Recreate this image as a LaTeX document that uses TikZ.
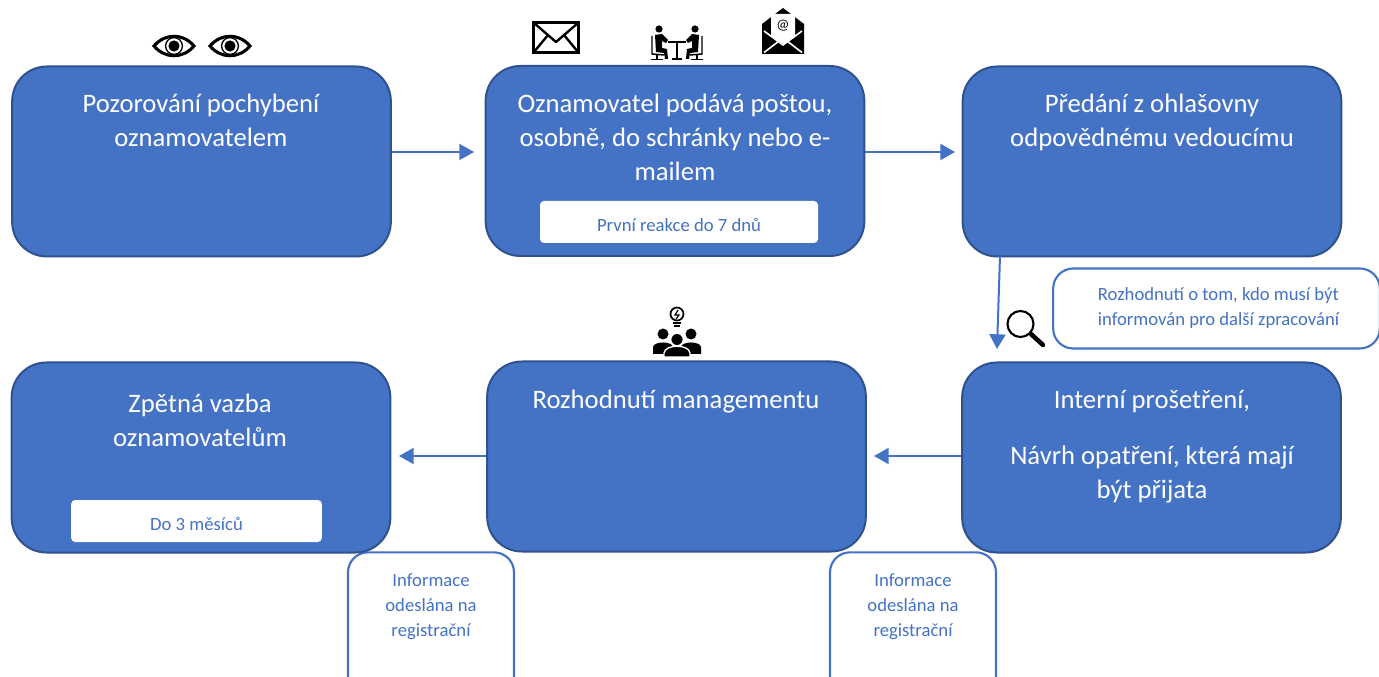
\documentclass[tikz,border=0pt]{standalone}
\usepackage{fontspec}
\setmainfont{Carlito}
\usetikzlibrary{arrows.meta}
\definecolor{boxblue}{HTML}{4472C4}
\definecolor{boxedge}{HTML}{2F528F}
\tikzset{
	stepbox/.style={rectangle,draw=boxedge,fill=boxblue,line width=1.5pt,rounded corners=26pt,minimum width=284pt,minimum height=142.5pt},
	steptext/.style={anchor=north,align=center,text=white,font=\fontsize{20}{25.5}\selectfont},
	deadline/.style={rectangle,fill=white,rounded corners=3pt,text=boxblue,font=\fontsize{14}{16}\selectfont,minimum height=31.5pt},
	notebox/.style={rectangle,draw=boxblue,fill=white,line width=1.6pt,rounded corners=15pt},
	notetext/.style={text=boxblue,align=center,font=\fontsize{14}{18.75}\selectfont},
	flow/.style={-{Triangle[width=12pt,length=11pt]},draw=boxblue,line width=1.5pt},
	pics/eye/.style={code={
		\draw[black,line width=2.3pt] (-20,0) .. controls (-9,-13) and (9,-13) .. (20,0) .. controls (9,13) and (-9,13) .. (-20,0) -- cycle;
		\draw[black,line width=1pt] (0,0) circle (8.4);
		\fill[black] (0,0) circle (5.6);
	}},
}
\begin{document}
\begin{tikzpicture}[x=0.75pt,y=-0.75pt]

	\clip (0,0) rectangle (1379,677);

	\node[notebox,minimum width=124.5pt,minimum height=112pt] (noteleft) at (431,627) {};
	\node[notebox,minimum width=124.5pt,minimum height=112pt] (noteright) at (913,627) {};

	\node[stepbox] (observe) at (201.5,161.5) {};
	\node[stepbox] (report) at (675,161) {};
	\node[stepbox] (handover) at (1152,161.5) {};
	\node[stepbox] (probe) at (1151.5,457.5) {};
	\node[stepbox] (decide) at (676.5,456.5) {};
	\node[stepbox] (feedback) at (201,457.5) {};

	\node[steptext] (observetext) at (201,89) {Pozorování pochybení\\oznamovatelem};
	\node[steptext] (reporttext) at (675,89) {Oznamovatel podává poštou,\\osobně, do schránky nebo e-\\mailem};
	\node[steptext] (handovertext) at (1152,89) {Předání z ohlašovny\\odpovědnému vedoucímu};
	\node[steptext] (probetext) at (1152,386) {Interní prošetření,\\[16.5pt]Návrh opatření, která mají\\být přijata};
	\node[steptext] (decidetext) at (676,385) {Rozhodnutí managementu};
	\node[steptext] (feedbacktext) at (200,389) {Zpětná vazba\\oznamovatelům};

	\node[deadline,minimum width=208.5pt] (firstreply) at (679,222) {\raisebox{-7pt}[0pt][0pt]{První reakce do 7 dnů}};
	\node[deadline,minimum width=188pt] (threemonths) at (196.5,521) {\raisebox{-7pt}[0pt][0pt]{Do 3 měsíců}};

	\node[notebox,minimum width=245pt,minimum height=60pt] (whotell) at (1216.5,308.5) {};
	\node[notetext] (whotelltext) at (1218.5,308.5) {Rozhodnutí o tom, kdo musí být\\informován pro další zpracování};
	\node[notetext] (notelefttext) at (431,606.5) {Informace\\odeslána na\\registrační};
	\node[notetext] (noterighttext) at (913,606.5) {Informace\\odeslána na\\registrační};

	\coordinate (tip1) at (474,152);
	\coordinate (tip2) at (955,152);
	\coordinate (from3) at (1000,256);
	\coordinate (tip3) at (997,349);
	\coordinate (tip4) at (874,456);
	\coordinate (tip5) at (399,456);

	\path[flow] (observe.east |- tip1) -- (tip1);
	\path[flow] (report.east |- tip2) -- (tip2);
	\path[flow] (from3) -- (tip3);
	\path[flow] (probe.west |- tip4) -- (tip4);
	\path[flow] (decide.west |- tip5) -- (tip5);

	% eyes
	\pic at (174,46) {eye};
	\pic at (230,46) {eye};

	% envelope
	\draw[black,line width=2.4pt] (533.5,22.5) rectangle (578.5,52.5);
	\draw[black,line width=1.8pt,line join=round] (534,23) -- (556,42) -- (578,23);
	\draw[black,line width=1.8pt] (534,52) -- (548,35) (578,52) -- (564,35);

	% meeting
	\fill[black] (659,29) circle (3.6) (695,29) circle (3.6);
	\fill[black] (655,35) -- (662,34) -- (668,40) -- (666,43) -- (662,41) -- (662,48) -- (667,49) -- (668,59) -- (665,59) -- (664,53) -- (656,52) -- cycle;
	\fill[black] (699,35) -- (692,34) -- (686,40) -- (688,43) -- (692,41) -- (692,48) -- (687,49) -- (686,59) -- (689,59) -- (690,53) -- (698,52) -- cycle;
	\draw[black,line width=1.1pt] (652,36) -- (652,54) -- (664,55) (702,36) -- (702,54) -- (690,55);
	\draw[black,line width=1.1pt] (657,55) -- (657,59) (651,59.5) -- (663,59.5) (697,55) -- (697,59) (691,59.5) -- (703,59.5);
	\draw[black,line width=1.5pt] (668,42) -- (686,42) (677,42) -- (677,59) (672,59.5) -- (682,59.5);

	% open mail
	\fill[black] (762,24) -- (783,8) -- (804,24) -- (804,54) -- (762,54) -- cycle;
	\fill[white] (771,14) -- (795,14) -- (795,36) -- (783,44) -- (771,36) -- cycle;
	\draw[white,line width=1.2pt] (764,52.5) -- (783,38) -- (802,52.5) (764,31) -- (783,45) -- (802,31);
	\node[inner sep=0pt,text=black,font=\fontsize{11}{11}\selectfont] (mailat) at (783,26) {@};

	% people and idea
	\draw[black,line width=1.3pt] (677,314) circle (6.5);
	\draw[black,line width=1.2pt] (673,323) -- (681,323) (674,326) -- (680,326);
	\draw[black,line width=0.9pt] (678,310) -- (675,315) -- (679,315) -- (676,319);
	\fill[black] (663,334) circle (5.5) (691,334) circle (5.5);
	\fill[black] (653,354) -- (653,347) .. controls (654,341) and (672,341) .. (673,347) -- (673,354) -- cycle;
	\fill[black] (681,354) -- (681,347) .. controls (682,341) and (700,341) .. (701,347) -- (701,354) -- cycle;
	\draw[white,line width=1pt,fill=black] (677,339.5) circle (6.3);
	\draw[white,line width=1pt,fill=black] (664,357) -- (664,353) .. controls (665,344) and (689,344) .. (690,353) -- (690,357) -- cycle;

	% magnifier
	\draw[black,line width=1.6pt] (1020.5,324) circle (13);
	\draw[black,line width=3.4pt,line cap=round] (1031,334) -- (1043,345);

\end{tikzpicture}
\end{document}
